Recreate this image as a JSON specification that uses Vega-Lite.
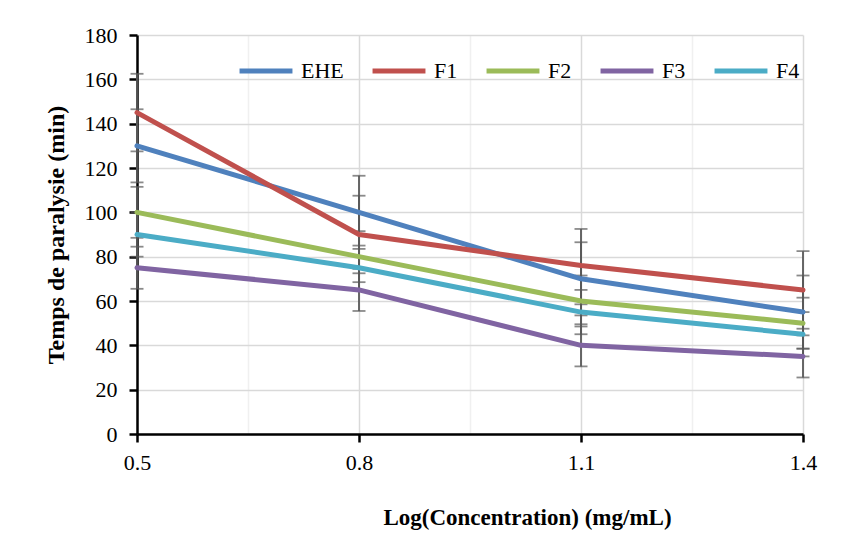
{
  "$schema": "https://vega.github.io/schema/vega-lite/v6.json",
  "width": 666,
  "height": 399,
  "autosize": "none",
  "padding": {"left": 137, "top": 35, "right": 40, "bottom": 101},
  "background": "white",
  "config": {"font": "Liberation Serif", "view": {"stroke": null}},
  "data": {
    "values": [
      {"x": 0.5, "series": "EHE", "y": 130, "lo": 113.5, "hi": 146.5},
      {"x": 0.8, "series": "EHE", "y": 100, "lo": 83.5, "hi": 116.5},
      {"x": 1.1, "series": "EHE", "y": 70, "lo": 53.5, "hi": 86.5},
      {"x": 1.4, "series": "EHE", "y": 55, "lo": 38.5, "hi": 71.5},
      {"x": 0.5, "series": "F1", "y": 145, "lo": 127.5, "hi": 162.5},
      {"x": 0.8, "series": "F1", "y": 90, "lo": 72.5, "hi": 107.5},
      {"x": 1.1, "series": "F1", "y": 76, "lo": 58.5, "hi": 92.5},
      {"x": 1.4, "series": "F1", "y": 65, "lo": 47.5, "hi": 82.5},
      {"x": 0.5, "series": "F2", "y": 100, "lo": 88.5, "hi": 111.5},
      {"x": 0.8, "series": "F2", "y": 80, "lo": 68.5, "hi": 91.5},
      {"x": 1.1, "series": "F2", "y": 60, "lo": 48.5, "hi": 71.5},
      {"x": 1.4, "series": "F2", "y": 50, "lo": 38.5, "hi": 61.5},
      {"x": 0.5, "series": "F3", "y": 75, "lo": 65.5, "hi": 84.5},
      {"x": 0.8, "series": "F3", "y": 65, "lo": 55.5, "hi": 74.5},
      {"x": 1.1, "series": "F3", "y": 40, "lo": 30.5, "hi": 49.5},
      {"x": 1.4, "series": "F3", "y": 35, "lo": 25.5, "hi": 44.5},
      {"x": 0.5, "series": "F4", "y": 90, "lo": 80, "hi": 100},
      {"x": 0.8, "series": "F4", "y": 75, "lo": 65, "hi": 85},
      {"x": 1.1, "series": "F4", "y": 55, "lo": 45, "hi": 65},
      {"x": 1.4, "series": "F4", "y": 45, "lo": 35, "hi": 55}
    ]
  },
  "layer": [
    {
      "mark": {"type": "errorbar", "color": "#595959", "thickness": 1.8, "ticks": {"size": 13}},
      "encoding": {
        "x": {
          "field": "x", "type": "quantitative",
          "scale": {"domain": [0.5, 1.4], "nice": false, "zero": false},
          "axis": {
            "title": "Log(Concentration)  (mg/mL)",
            "values": [0.5, 0.65, 0.8, 0.95, 1.1, 1.25, 1.4],
            "labelExpr": "abs((datum.value - 0.5) / 0.3 - round((datum.value - 0.5) / 0.3)) < 0.01 ? format(datum.value, '.1f') : ''",
            "grid": true,
            "gridColor": {"condition": {"test": "abs((datum.value - 0.5) / 0.3 - round((datum.value - 0.5) / 0.3)) < 0.01", "value": "#d9d9d9"}, "value": "#f0f0f0"},
            "gridWidth": 1.5,
            "tickOpacity": {"condition": {"test": "abs((datum.value - 0.5) / 0.3 - round((datum.value - 0.5) / 0.3)) < 0.01", "value": 1}, "value": 0},
            "tickColor": "black", "tickWidth": 2.5, "tickSize": 8,
            "domainColor": "black", "domainWidth": 2.5,
            "labelFontSize": 22, "labelColor": "black", "labelPadding": 10,
            "labelFlush": false, "labelOverlap": false,
            "titleFontSize": 23, "titleFontWeight": "bold", "titleColor": "black",
            "titleX": 390, "titleY": 90, "titleBaseline": "alphabetic"
          }
        },
        "y": {
          "field": "hi", "type": "quantitative",
          "scale": {"domain": [0, 180], "nice": false},
          "axis": {
            "title": "Temps de paralysie (min)",
            "values": [0, 5, 10, 15, 20, 25, 30, 35, 40, 45, 50, 55, 60, 65, 70, 75, 80, 85, 90, 95, 100, 105, 110, 115, 120, 125, 130, 135, 140, 145, 150, 155, 160, 165, 170, 175, 180],
            "labelExpr": "datum.value % 20 === 0 ? datum.label : ''",
            "grid": true,
            "gridColor": {"condition": {"test": "datum.value % 20 === 0", "value": "#d9d9d9"}, "value": "#f0f0f0"},
            "gridWidth": 1.5,
            "tickOpacity": {"condition": {"test": "datum.value % 20 === 0", "value": 1}, "value": 0},
            "tickColor": "black", "tickWidth": 2.5, "tickSize": 8,
            "domainColor": "black", "domainWidth": 2.5,
            "labelFontSize": 22, "labelColor": "black", "labelPadding": 12,
            "labelOverlap": false,
            "titleFontSize": 24, "titleFontWeight": "bold", "titleColor": "black",
            "titlePadding": 16
          }
        },
        "y2": {"field": "lo"}
      }
    },
    {
      "mark": {"type": "line", "interpolate": "linear", "strokeWidth": 5, "strokeCap": "round", "strokeJoin": "round"},
      "encoding": {
        "x": {"field": "x", "type": "quantitative"},
        "y": {"field": "y", "type": "quantitative", "title": "Temps de paralysie (min)"},
        "color": {
          "field": "series", "type": "nominal",
          "scale": {"domain": ["EHE", "F1", "F2", "F3", "F4"], "range": ["#4f81bd", "#c0504d", "#9bbb59", "#8064a2", "#4bacc6"]},
          "legend": {
            "orient": "none", "legendX": 100, "legendY": 7,
            "direction": "horizontal", "columns": 5, "title": null,
            "symbolType": "stroke", "symbolStrokeWidth": 5, "symbolSize": 2800,
            "labelFontSize": 22, "labelFont": "Liberation Serif", "labelColor": "black",
            "labelOffset": 6, "columnPadding": 18, "labelLimit": 200
          }
        }
      }
    }
  ]
}
